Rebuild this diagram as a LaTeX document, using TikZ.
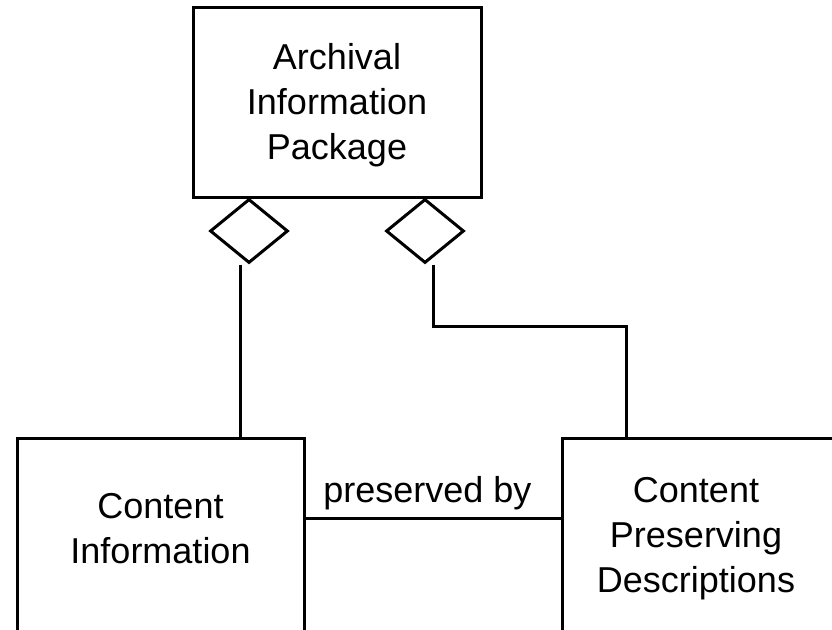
\documentclass[tikz,border=0pt]{standalone}
\usepackage{fontspec}
\setmainfont{Liberation Sans}
\usetikzlibrary{shapes.geometric}
\begin{document}
\begin{tikzpicture}[x=1pt,y=-1pt,
  box/.style={draw, line width=3pt, inner sep=0pt, rectangle},
  agg/.style={draw, line width=3pt, diamond, inner sep=0pt, minimum width=78pt, minimum height=64pt},
  lbl/.style={align=center, font=\fontsize{36}{45}\selectfont, inner sep=0pt},
  conn/.style={line width=3pt}]
\useasboundingbox (0,0) rectangle (832,629);
\clip (0,0) rectangle (832,629);
\fill[white] (0,0) rectangle (832,629);
\node[box, minimum width=288pt, minimum height=190pt] (aip) at (337,102) {};
\node[lbl] (aiptext) at (337,105) {Archival\\Information\\Package};
\node[agg] (d1) at (249,231) {};
\node[agg] (d2) at (425,231) {};
\node[box, minimum width=287pt, minimum height=262pt] (ci) at (160.5,569) {};
\node[lbl] (citext) at (160.5,528.5) {Content\\Information};
\node[box, minimum width=288pt, minimum height=262pt] (cpd) at (706,569) {};
\node[lbl] (cpdtext) at (696,539) {Content\\Preserving\\Descriptions};
\coordinate (bend) at (626,326);
\coordinate (pb) at (430,518);
\draw[conn] ([xshift=-9pt]d1.south) -- ([xshift=-9pt]d1.south |- ci.north);
\draw[conn] ([xshift=8pt]d2.south) -- ([xshift=8pt]d2.south |- bend) -- (bend) -- (bend |- cpd.north);
\draw[conn] ([xshift=-3pt]ci.east |- pb) -- (cpd.west |- pb);
\node[lbl, anchor=base] (pbtext) at (427.5,502) {preserved by};
\end{tikzpicture}
\end{document}
